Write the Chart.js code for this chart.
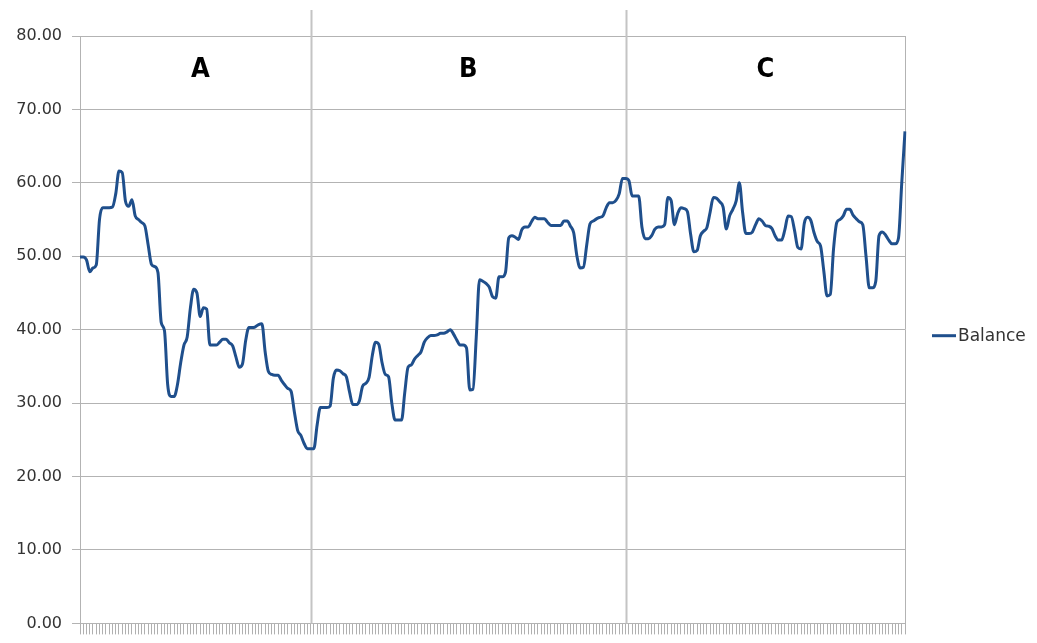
<!DOCTYPE html>
<html>
<head>
<meta charset="utf-8">
<script src="https://cdn.jsdelivr.net/npm/chart.js@4.4.0/dist/chart.umd.min.js"></script>
<style>
  html, body { margin: 0; padding: 0; background: #ffffff; }
  #wrap { width: 1037px; height: 643px; position: relative; }
</style>
</head>
<body>
<div id="wrap"><canvas id="c" width="1037" height="643"></canvas></div>
<script>
// ---- data ----
const balance = [
  49.9, 49.9, 49.5, 47.9, 48.4, 48.8, 55.0, 56.6, 56.6, 56.6,
  56.7, 58.5, 61.6, 61.4, 57.5, 56.8, 57.7, 55.5, 55.0, 54.6,
  54.1, 51.5, 48.9, 48.6, 47.8, 41.0, 39.9, 32.5, 30.9, 30.9,
  32.5, 35.5, 37.9, 39.0, 43.0, 45.5, 45.0, 41.8, 43.0, 42.8,
  37.9, 37.9, 37.9, 38.3, 38.7, 38.7, 38.2, 37.8, 36.3, 34.9,
  35.3, 38.5, 40.3, 40.3, 40.4, 40.7, 40.8, 37.0, 34.3, 33.9,
  33.8, 33.8, 33.1, 32.5, 32.0, 31.6, 28.8, 26.3, 25.6, 24.5,
  23.8, 23.8, 23.8, 27.0, 29.4, 29.4, 29.4, 29.6, 33.4, 34.5,
  34.4, 34.0, 33.6, 31.5, 29.8, 29.8, 30.3, 32.3, 32.7, 33.5,
  36.5, 38.3, 38.0, 35.5, 33.9, 33.6, 30.0, 27.7, 27.7, 27.7,
  31.5, 34.9, 35.2, 36.0, 36.5, 37.0, 38.3, 38.9, 39.2, 39.2,
  39.3, 39.5, 39.5, 39.7, 40.0, 39.4, 38.6, 37.9, 37.9, 37.5,
  31.8, 31.9, 39.0, 46.8, 46.6, 46.3, 45.8, 44.5, 44.3, 47.2,
  47.2, 47.8, 52.5, 52.8, 52.6, 52.3, 53.6, 54.0, 54.0, 54.7,
  55.3, 55.1, 55.1, 55.1, 54.6, 54.2, 54.2, 54.2, 54.2, 54.8,
  54.8, 54.1, 53.2, 50.0, 48.4, 48.5, 51.5, 54.4, 54.8, 55.1,
  55.3, 55.5, 56.6, 57.3, 57.3, 57.6, 58.5, 60.6, 60.6, 60.3,
  58.2, 58.2, 58.2, 54.0, 52.4, 52.4, 52.8, 53.7, 54.0, 54.0,
  54.3, 58.0, 57.6, 54.3, 55.8, 56.6, 56.5, 56.1, 53.0, 50.6,
  50.8, 52.8, 53.4, 53.9, 56.0, 58.0, 57.9, 57.4, 56.7, 53.7,
  55.5, 56.4, 57.5, 60.0, 56.0, 53.1, 53.1, 53.3, 54.3, 55.1,
  54.8, 54.2, 54.1, 53.8, 52.8, 52.2, 52.2, 53.6, 55.5, 55.4,
  53.5, 51.2, 51.0, 54.5, 55.3, 54.9, 53.2, 52.0, 51.4, 48.0,
  44.6, 44.8, 51.0, 54.6, 55.0, 55.5, 56.4, 56.4, 55.6, 55.1,
  54.7, 54.3, 50.0, 45.7, 45.7, 46.6, 52.8, 53.3, 52.9, 52.2,
  51.7, 51.7, 52.5, 60.0, 67.0
];
const categories = balance.map((_, i) => String(i + 1));
const seriesName = 'Balance';
const regionLabels = ['A', 'B', 'C'];
const regionBounds = [0, 71, 168, 254];   // category indices of region edges
const yMin = 0, yMax = 80, yStep = 10;

// ---- styles ----
const LINE_COLOR = '#1f4f8c';
const GRID = '#b3b3b3';
const TEXT = '#333333';

const overlay = {
  id: 'overlay',
  beforeDatasetsDraw(chart) {
    const { ctx, chartArea, scales } = chart;
    const xs = scales.x;
    ctx.save();
    ctx.strokeStyle = '#c4c4c4';
    ctx.lineWidth = 2;
    for (let k = 1; k < regionBounds.length - 1; k++) {
      const x = Math.round(xs.getPixelForValue(regionBounds[k])) + 0.5;
      ctx.beginPath();
      ctx.moveTo(x, chartArea.top - 26);
      ctx.lineTo(x, chartArea.bottom);
      ctx.stroke();
    }
    ctx.lineWidth = 1;
    ctx.strokeStyle = GRID;
    const xr = Math.round(xs.getPixelForValue(regionBounds[regionBounds.length - 1])) + 0.5;
    ctx.beginPath();
    ctx.moveTo(xr, chartArea.top);
    ctx.lineTo(xr, chartArea.bottom);
    ctx.stroke();
    ctx.restore();
  },
  afterDraw(chart) {
    const { ctx, chartArea, scales } = chart;
    const xs = scales.x;
    ctx.save();
    ctx.fillStyle = '#000000';
    ctx.font = 'bold 27px "DejaVu Sans Condensed", "DejaVu Sans", sans-serif';
    ctx.textAlign = 'center';
    ctx.textBaseline = 'middle';
    for (let k = 0; k < regionLabels.length; k++) {
      const x0 = xs.getPixelForValue(regionBounds[k]);
      const x1 = xs.getPixelForValue(regionBounds[k + 1]);
      ctx.fillText(regionLabels[k], (x0 + x1) / 2 + (k === 0 ? 5 : 0), chartArea.top + 34);
    }
    const ly = (chartArea.top + chartArea.bottom) / 2 + 6;
    const lx = chartArea.right + 27;
    ctx.strokeStyle = LINE_COLOR;
    ctx.lineWidth = 3;
    ctx.beginPath();
    ctx.moveTo(lx, ly);
    ctx.lineTo(lx + 24, ly);
    ctx.stroke();
    ctx.fillStyle = TEXT;
    ctx.font = '17px "DejaVu Sans", sans-serif';
    ctx.textAlign = 'left';
    ctx.fillText(chart.data.datasets[0].label, lx + 26, ly + 1);
    ctx.restore();
  }
};

new Chart(document.getElementById('c'), {
  type: 'line',
  data: {
    labels: categories,
    datasets: [{
      label: seriesName,
      data: balance,
      borderColor: LINE_COLOR,
      backgroundColor: LINE_COLOR,
      borderWidth: 3,
      pointRadius: 0,
      cubicInterpolationMode: 'monotone',
      fill: false
    }]
  },
  options: {
    responsive: false,
    animation: false,
    devicePixelRatio: 1,
    layout: { padding: { top: 36, right: 132, left: 0, bottom: 0 } },
    plugins: {
      legend: { display: false },
      tooltip: { enabled: false }
    },
    scales: {
      x: {
        type: 'category',
        offset: false,
        border: { display: true, color: GRID },
        grid: {
          display: true,
          drawOnChartArea: false,
          drawTicks: true,
          tickLength: 11,
          tickColor: '#b0b0b0',
          color: GRID
        },
        ticks: { display: false, autoSkip: false, maxRotation: 0 },
        afterFit(scale) { scale.height = 11; }
      },
      y: {
        min: yMin,
        max: yMax,
        border: { display: true, color: GRID },
        grid: { color: GRID, tickLength: 8, tickColor: GRID },
        ticks: {
          stepSize: yStep,
          padding: 10,
          color: TEXT,
          font: { family: '"DejaVu Sans", sans-serif', size: 16 },
          callback: v => v.toFixed(2)
        },
        afterFit(scale) { scale.width = 80; }
      }
    }
  },
  plugins: [overlay]
});
</script>
</body>
</html>
